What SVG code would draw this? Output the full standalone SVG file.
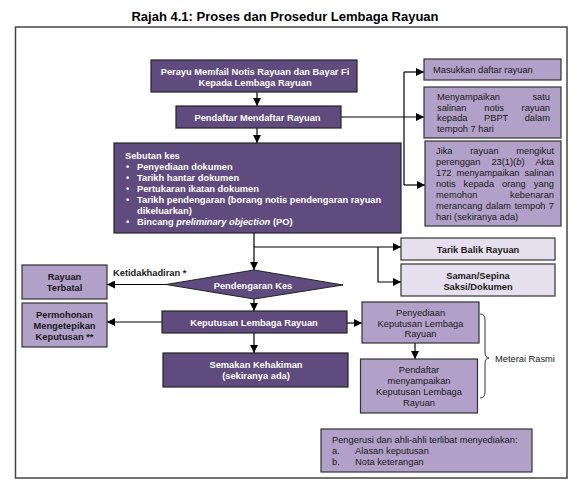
<svg xmlns="http://www.w3.org/2000/svg" width="581" height="494" viewBox="0 0 581 494">
<style>
.dk{fill:#5f4b7d;stroke:#222;stroke-width:1.2}
.md{fill:#b1a0c7;stroke:#333;stroke-width:1.2}
.lt{fill:#e6e0ee;stroke:#333;stroke-width:1.2}
text{font-family:"Liberation Sans",Arial,sans-serif;font-size:9.3px}
.tw{font-weight:bold;fill:#fff}
.tb{font-weight:bold;fill:#1a1a1a}
.tr{fill:#1a1a1a}
.c{text-anchor:middle}
.e{text-anchor:end}
.ln{stroke:#000;stroke-width:1.2;fill:none}
</style>
<defs>
<marker id="ah" markerWidth="8" markerHeight="8" refX="8" refY="4" orient="auto" markerUnits="userSpaceOnUse">
<path d="M0,0 L8,4 L0,8 z" fill="#000"/>
</marker>
</defs>
<rect width="581" height="494" fill="#fff"/>
<text x="285" y="21" class="c" style="font-size:13px;font-weight:bold;fill:#000">Rajah 4.1: Proses dan Prosedur Lembaga Rayuan</text>
<rect x="15.5" y="27" width="551.5" height="451" fill="none" stroke="#444" stroke-width="1.5"/>

<g id="connectors">
<path class="ln" d="M257,92 V106" marker-end="url(#ah)"/>
<path class="ln" d="M257,128 V143" marker-end="url(#ah)"/>
<path class="ln" d="M341,117 H424" marker-end="url(#ah)"/>
<path class="ln" d="M404,72 V185"/>
<path class="ln" d="M404,72 H424" marker-end="url(#ah)"/>
<path class="ln" d="M404,185 H425" marker-end="url(#ah)"/>
<path class="ln" d="M254,233 V270" marker-end="url(#ah)"/>
<path class="ln" d="M254,247 H401" marker-end="url(#ah)"/>
<path class="ln" d="M378,247 V282 H401" marker-end="url(#ah)"/>
<path class="ln" d="M166,284.5 H107" marker-end="url(#ah)"/>
<path class="ln" d="M254,299 V311" marker-end="url(#ah)"/>
<path class="ln" d="M162,322 H107" marker-end="url(#ah)"/>
<path class="ln" d="M254,333 V353" marker-end="url(#ah)"/>
<path class="ln" d="M347,323 H362" marker-end="url(#ah)"/>
<path class="ln" d="M415,343 V359" marker-end="url(#ah)"/>
<path d="M480,314 Q485,314 485,320 V352 Q485,358 489,358 Q485,358 485,364 V392 Q485,398 480,398" fill="none" stroke="#333" stroke-width="1"/>
</g>

<g id="perayu">
<rect class="dk" x="151" y="60" width="206" height="32"/>
<text class="tw c" x="255" y="75">Perayu Memfail Notis Rayuan dan Bayar Fi</text>
<text class="tw c" x="255" y="85.5">Kepada Lembaga Rayuan</text>
</g>

<g id="pendaftar">
<rect class="dk" x="176" y="106" width="165" height="22"/>
<text class="tw c" x="257.5" y="120.5">Pendaftar Mendaftar Rayuan</text>
</g>

<g id="masukkan">
<rect class="md" x="424" y="59" width="137" height="21"/>
<text class="tr" x="433" y="73">Masukkan daftar rayuan</text>
</g>

<g id="menyampaikan">
<rect class="md" x="424" y="87" width="137" height="51"/>
<text class="tr" x="437" y="100">Menyampaikan</text>
<text class="tr e" x="550" y="100">satu</text>
<text class="tr" x="437" y="110.5">salinan</text>
<text class="tr" x="484.3" y="110.5">notis</text>
<text class="tr e" x="550" y="110.5">rayuan</text>
<text class="tr" x="437" y="121">kepada</text>
<text class="tr" x="484" y="121">PBPT</text>
<text class="tr e" x="550" y="121">dalam</text>
<text class="tr" x="437" y="131.5">tempoh 7 hari</text>
</g>

<g id="jika">
<rect class="md" x="425" y="141" width="136" height="85"/>
<text class="tr" x="436" y="153.5">Jika</text>
<text class="tr" x="470.2" y="153.5">rayuan</text>
<text class="tr e" x="554" y="153.5">mengikut</text>
<text class="tr" x="436" y="164.5">perenggan</text>
<text class="tr" x="491.4" y="164.5">23(1)(<tspan font-style="italic">b</tspan>)</text>
<text class="tr e" x="554" y="164.5">Akta</text>
<text class="tr" x="436" y="175.5">172</text>
<text class="tr" x="456.5" y="175.5">menyampaikan</text>
<text class="tr e" x="554" y="175.5">salinan</text>
<text class="tr" x="436" y="186.5">notis</text>
<text class="tr" x="463.6" y="186.5">kepada</text>
<text class="tr" x="502" y="186.5">orang</text>
<text class="tr e" x="554" y="186.5">yang</text>
<text class="tr" x="436" y="197.5">memohon</text>
<text class="tr e" x="554" y="197.5">kebenaran</text>
<text class="tr" x="436" y="208.5">merancang</text>
<text class="tr" x="485.8" y="208.5">dalam</text>
<text class="tr" x="514.5" y="208.5">tempoh</text>
<text class="tr e" x="554" y="208.5">7</text>
<text class="tr" x="436" y="219.5">hari (sekiranya ada)</text>
</g>

<g id="sebutan">
<rect class="dk" x="114" y="143" width="287" height="90"/>
<text class="tw" x="125" y="159">Sebutan kes</text>
<text class="tw" x="126" y="170">•</text><text class="tw" x="137" y="170">Penyediaan dokumen</text>
<text class="tw" x="126" y="181">•</text><text class="tw" x="137" y="181">Tarikh hantar dokumen</text>
<text class="tw" x="126" y="192">•</text><text class="tw" x="137" y="192">Pertukaran ikatan dokumen</text>
<text class="tw" x="126" y="203">•</text><text class="tw" x="137" y="203">Tarikh pendengaran (borang notis pendengaran rayuan</text>
<text class="tw" x="137" y="214">dikeluarkan)</text>
<text class="tw" x="126" y="225">•</text><text class="tw" x="137" y="225">Bincang <tspan font-style="italic">preliminary objection</tspan> (PO)</text>
</g>

<g id="tarik">
<rect class="lt" x="401" y="238" width="154" height="22"/>
<text class="tb c" x="478" y="252.5">Tarik Balik Rayuan</text>
</g>

<g id="saman">
<rect class="lt" x="401" y="264" width="154" height="32"/>
<text class="tb c" x="478" y="278.5">Saman/Sepina</text>
<text class="tb c" x="478" y="289.5">Saksi/Dokumen</text>
</g>

<g id="pendengaran">
<polygon points="166,284.5 254,270 343,285 254,299" fill="#5f4b7d" stroke="#222" stroke-width="1"/>
<text class="tw c" x="253" y="289">Pendengaran Kes</text>
</g>

<g id="ketidakhadiran-label">
<text class="tb" x="113" y="276">Ketidakhadiran *</text>
</g>

<g id="terbatal">
<rect class="md" x="22" y="265" width="85" height="34"/>
<text class="tb c" x="64.5" y="279.5">Rayuan</text>
<text class="tb c" x="64.5" y="290.5">Terbatal</text>
</g>

<g id="permohonan">
<rect class="md" x="22" y="303" width="85" height="44"/>
<text class="tb c" x="64.5" y="317.5">Permohonan</text>
<text class="tb c" x="64.5" y="328.5">Mengetepikan</text>
<text class="tb c" x="64.5" y="339.5">Keputusan **</text>
</g>

<g id="keputusan">
<rect class="dk" x="162" y="311" width="185" height="22"/>
<text class="tw c" x="254" y="325.5">Keputusan Lembaga Rayuan</text>
</g>

<g id="semakan">
<rect class="dk" x="163" y="353" width="185" height="34"/>
<text class="tw c" x="256" y="368">Semakan Kehakiman</text>
<text class="tw c" x="256" y="379">(sekiranya ada)</text>
</g>

<g id="penyediaan">
<rect class="md" x="362" y="302" width="117" height="41"/>
<text class="tr c" x="420.5" y="316">Penyediaan</text>
<text class="tr c" x="420.5" y="326.5">Keputusan Lembaga</text>
<text class="tr c" x="420.5" y="337">Rayuan</text>
</g>

<g id="pendaftar-menyampaikan">
<rect class="md" x="360.5" y="359" width="117" height="54"/>
<text class="tr c" x="419" y="373">Pendaftar</text>
<text class="tr c" x="419" y="384">menyampaikan</text>
<text class="tr c" x="419" y="395">Keputusan Lembaga</text>
<text class="tr c" x="419" y="405.5">Rayuan</text>
</g>

<g id="meterai">
<text class="tr" x="495" y="361.5">Meterai Rasmi</text>
</g>

<g id="pengerusi">
<rect class="md" x="321" y="429" width="211" height="43"/>
<text class="tr" x="332" y="442.5">Pengerusi dan ahli-ahli terlibat menyediakan:</text>
<text class="tr" x="332" y="453.5">a.</text><text class="tr" x="355" y="453.5">Alasan keputusan</text>
<text class="tr" x="332" y="464.5">b.</text><text class="tr" x="355" y="464.5">Nota keterangan</text>
</g>
</svg>
